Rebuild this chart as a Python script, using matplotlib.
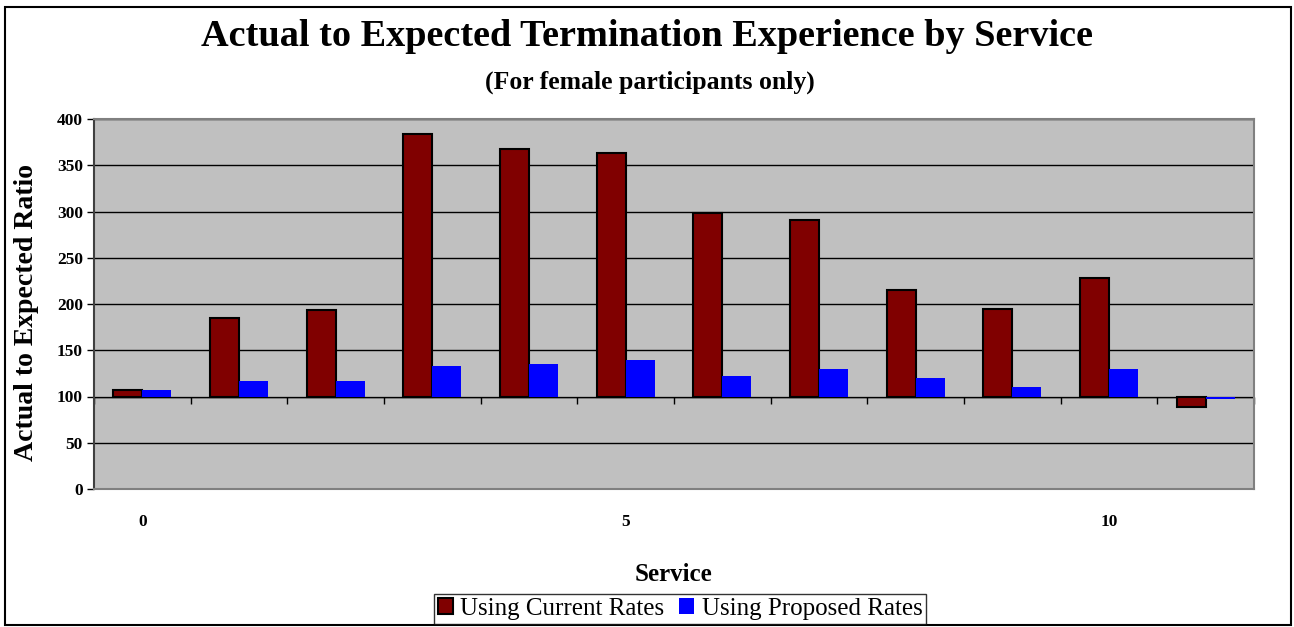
import matplotlib.pyplot as plt
import numpy as np

# Data (baseline of the bars is 100)
service = np.arange(12)
current = [107, 185, 194, 384, 368, 363, 298, 291, 215, 195, 228, 89]
proposed = [107, 117, 117, 133, 135, 139, 122, 130, 120, 110, 130, 97]
xtick_pos = [0, 5, 10]
xtick_labels = ["0", "5", "10"]
baseline = 100

plt.rcParams['font.family'] = ['Liberation Serif', 'DejaVu Serif']

fig = plt.figure(figsize=(12.94, 6.27), dpi=100)
ax = fig.add_axes([94/1294, 1-489/627, (1254-94)/1294, (489-119)/627])

w = 0.3
cur = np.array(current)
prop = np.array(proposed)
ax.bar(service - w/2, cur - baseline, bottom=baseline, width=w,
       color='#800000', edgecolor='black', linewidth=1.5, zorder=3)
ax.bar(service + w/2, prop - baseline, bottom=baseline, width=w,
       color='#0000FF', edgecolor='none', zorder=3)

ax.set_facecolor('#C0C0C0')
ax.set_xlim(-0.5, 11.5)
ax.set_ylim(0, 400)
ax.set_yticks(np.arange(0, 401, 50))
ax.yaxis.grid(True, color='black', linewidth=1)
ax.set_axisbelow(True)
for s in ['top', 'right', 'bottom']:
    ax.spines[s].set_color('#808080')
    ax.spines[s].set_linewidth(1.5)
ax.spines['left'].set_color('#404040')
ax.spines['left'].set_linewidth(1.5)
ax.tick_params(axis='y', length=5, width=1, labelsize=12.5, pad=3)
for t in ax.get_yticklabels():
    t.set_fontweight('bold')

# category labels under the plot area
ax.set_xticks(xtick_pos)
ax.set_xticklabels(xtick_labels, fontsize=12.5, fontweight='bold')
ax.tick_params(axis='x', length=0, pad=18)

# category axis crossing at 100
ax.axhline(baseline, color='black', linewidth=1, zorder=2)
sec = ax.secondary_xaxis(baseline / 400)
sec.set_xticks(np.arange(-0.5, 12, 1))
sec.tick_params(axis='x', direction='out', length=5, width=1, labelbottom=False)
sec.spines['bottom'].set_visible(False)

ax.set_ylabel('Actual to Expected Ratio', fontsize=20, fontweight='bold')
ax.yaxis.set_label_coords(-0.047, 0.478)
ax.set_xlabel('Service', fontsize=18, fontweight='bold', labelpad=24)

fig.text(0.5, 1-37/627, 'Actual to Expected Termination Experience by Service',
         ha='center', va='center', fontsize=27.5, fontweight='bold')
fig.text(650/1294, 1-82/627, '(For female participants only)',
         ha='center', va='center', fontsize=18.5, fontweight='bold')

handles = [plt.Rectangle((0, 0), 1, 1, facecolor='#800000', edgecolor='black', linewidth=1.5),
           plt.Rectangle((0, 0), 1, 1, facecolor='#0000FF', edgecolor='none')]
leg = fig.legend(handles, ['Using Current Rates', 'Using Proposed Rates'],
                 loc='center', bbox_to_anchor=(680/1294, 1-609/627), ncol=2,
                 fontsize=18, frameon=True, fancybox=False, handlelength=0.6,
                 handleheight=0.6, handletextpad=0.3, columnspacing=0.6,
                 borderpad=0.15, borderaxespad=0)
leg.get_frame().set_edgecolor('black')
leg.get_frame().set_linewidth(1)

fig.patches.append(plt.Rectangle((5/1294, 2/627), 1286/1294, 618/627, transform=fig.transFigure,
                                 fill=False, edgecolor='black', linewidth=1.5))

fig.savefig('out.png', dpi=100)
